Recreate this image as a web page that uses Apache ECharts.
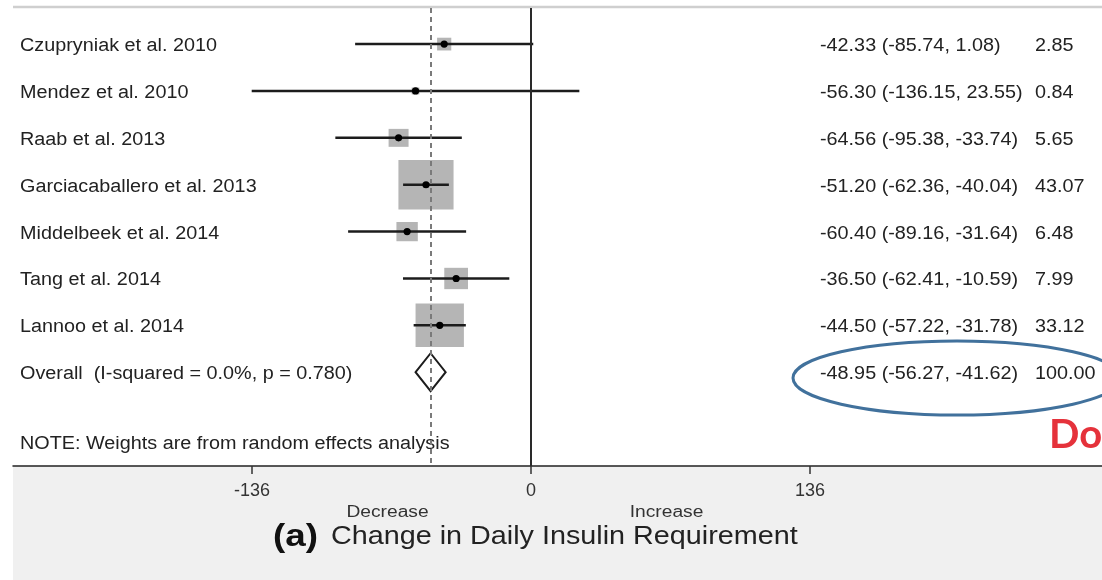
<!DOCTYPE html>
<html>
<head>
<meta charset="utf-8">
<script src="https://cdn.jsdelivr.net/npm/echarts@6/dist/echarts.min.js"></script>
<style>
html,body{margin:0;padding:0;background:#fff;}
#chart{width:1102px;height:580px;}
</style>
</head>
<body>
<div id="chart"></div>
<script>
// ---- data ----
const studies = ["Czupryniak et al. 2010", "Mendez et al. 2010", "Raab et al. 2013", "Garciacaballero et al. 2013", "Middelbeek et al. 2014", "Tang et al. 2014", "Lannoo et al. 2014"];
const effect = [-42.33, -56.30, -64.56, -51.20, -60.40, -36.50, -44.50];
const lower  = [-85.74, -136.15, -95.38, -62.36, -89.16, -62.41, -57.22];
const upper  = [1.08, 23.55, -33.74, -40.04, -31.64, -10.59, -31.78];
const weights = [2.85, 0.84, 5.65, 43.07, 6.48, 7.99, 33.12];
const overallLabel = "Overall  (I-squared = 0.0%, p = 0.780)";
const overallEffect = -48.95;
const overallLower = -56.27;
const overallUpper = -41.62;
const overallWeight = 100.00;
const xTicks = [-136, 0, 136];
const noteText = "NOTE: Weights are from random effects analysis";
const directionLabels = ["Decrease", "Increase"];
const directionValues = [-68, 68];
const panelTag = "(a)";
const axisTitle = "Change in Daily Insulin Requirement";
const annotation = "Do";

// ---- chart ----
const FONT = '"Liberation Sans", Arial, Helvetica, sans-serif';
const SX = 1.1;
const TY = 2; // text baseline nudge
const f2 = v => v.toFixed(2);
const chart = echarts.init(document.getElementById('chart'), null, {renderer: 'canvas'});

const studyData = studies.map((n, i) => [effect[i], i, lower[i], upper[i], weights[i]]);
const overallRow = studies.length;

function rowTexts(y, label, es, lo, hi, w) {
  const base = {fontFamily: FONT, fontSize: 18, fill: '#222', verticalAlign: 'middle', align: 'left'};
  return [
    {type: 'text', x: 20, y: y + TY, scaleX: SX, style: Object.assign({text: label}, base)},
    {type: 'text', x: 820, y: y + TY, scaleX: SX, style: Object.assign({text: f2(es) + ' (' + f2(lo) + ', ' + f2(hi) + ')'}, base)},
    {type: 'text', x: 1035, y: y + TY, scaleX: SX, style: Object.assign({text: f2(w)}, base)}
  ];
}

const option = {
  animation: false,
  grid: {left: 13, right: 0, top: 8, bottom: 114, containLabel: false},
  xAxis: {
    type: 'value', min: -252.5, max: 278.3,
    splitLine: {show: false},
    axisLine: {show: true, onZero: false, lineStyle: {color: '#222', width: 1.5}},
    axisTick: {show: true, customValues: xTicks, length: 8, lineStyle: {color: '#333', width: 1.5}},
    axisLabel: {show: true, customValues: xTicks, margin: 16, fontSize: 18, fontFamily: FONT, color: '#333'}
  },
  yAxis: {
    type: 'value', min: -0.77, max: 9.0, inverse: true,
    show: false, splitLine: {show: false}
  },
  series: [
    {
      type: 'custom',
      clip: false,
      data: studyData,
      renderItem: function (params, api) {
        const es = api.value(0), row = api.value(1), lo = api.value(2), hi = api.value(3), w = api.value(4);
        const p = api.coord([es, row]);
        const l = api.coord([lo, row]);
        const h = api.coord([hi, row]);
        const s = 8.4 * Math.sqrt(w);
        const sh = s * 0.9;
        const children = [
          {type: 'rect', shape: {x: p[0] - s / 2, y: p[1] - sh / 2, width: s, height: sh}, style: {fill: '#b5b5b5'}},
          {type: 'line', shape: {x1: l[0], y1: l[1], x2: h[0], y2: h[1]}, style: {stroke: '#1c1c1c', lineWidth: 2.5}},
          {type: 'circle', shape: {cx: p[0], cy: p[1], r: 3.6}, style: {fill: '#000'}}
        ].concat(rowTexts(p[1], studies[params.dataIndex], es, lo, hi, w));
        return {type: 'group', children: children};
      },
      markLine: {
        silent: true, symbol: 'none', label: {show: false},
        data: [
          {xAxis: 0, lineStyle: {color: '#2a2a2a', width: 2, type: 'solid'}},
          {xAxis: overallEffect, lineStyle: {color: '#7a7a7a', width: 2, type: [5, 4]}}
        ]
      }
    },
    {
      type: 'custom',
      clip: false,
      data: [[overallEffect, overallRow, overallLower, overallUpper, overallWeight]],
      renderItem: function (params, api) {
        const es = api.value(0), row = api.value(1), lo = api.value(2), hi = api.value(3), w = api.value(4);
        const p = api.coord([es, row]);
        const l = api.coord([lo, row]);
        const h = api.coord([hi, row]);
        const hh = 19;
        const children = [
          {type: 'polygon', shape: {points: [[l[0], p[1]], [p[0], p[1] - hh], [h[0], p[1]], [p[0], p[1] + hh]]},
           style: {fill: 'none', stroke: '#1c1c1c', lineWidth: 2}}
        ].concat(rowTexts(p[1], overallLabel, es, lo, hi, w));
        return {type: 'group', children: children};
      }
    }
  ]
};
chart.setOption(option);

const dPix = directionValues.map(v => chart.convertToPixel({xAxisIndex: 0}, v) - 4);
const noteY = chart.convertToPixel({yAxisIndex: 0}, 8.5);

chart.setOption({
  graphic: [
    {type: 'rect', z: -10, shape: {x: 13, y: 466, width: 1089, height: 114}, style: {fill: '#f0f0f0'}},
    {type: 'line', shape: {x1: 13, y1: 7, x2: 1102, y2: 7}, style: {stroke: '#cfcfcf', lineWidth: 2.5}},
    {type: 'text', x: 20, y: noteY + 1, scaleX: SX, style: {text: noteText, fontFamily: FONT, fontSize: 18, fill: '#222', verticalAlign: 'middle'}},
    {type: 'text', x: dPix[0], y: 513, scaleX: 1.2, style: {text: directionLabels[0], fontFamily: FONT, fontSize: 16, fill: '#333', align: 'center', verticalAlign: 'middle'}},
    {type: 'text', x: dPix[1], y: 513, scaleX: 1.2, style: {text: directionLabels[1], fontFamily: FONT, fontSize: 16, fill: '#333', align: 'center', verticalAlign: 'middle'}},
    {type: 'text', x: 273, y: 537, scaleX: 1.15, style: {text: panelTag, fontFamily: FONT, fontWeight: 'bold', fontSize: 32, fill: '#111', verticalAlign: 'middle'}},
    {type: 'text', x: 331, y: 537, scaleX: 1.15, style: {text: axisTitle, fontFamily: FONT, fontSize: 25, fill: '#222', verticalAlign: 'middle'}},
    {type: 'ellipse', shape: {cx: 957, cy: 378, rx: 164, ry: 37}, style: {fill: 'none', stroke: '#41719c', lineWidth: 3}},
    {type: 'text', x: 1049, y: 435, style: {text: annotation, fontFamily: 'Lato, "Open Sans", sans-serif', fontWeight: 'bold', fontSize: 40, fill: '#e5323b', verticalAlign: 'middle'}}
  ]
});
</script>
</body>
</html>
